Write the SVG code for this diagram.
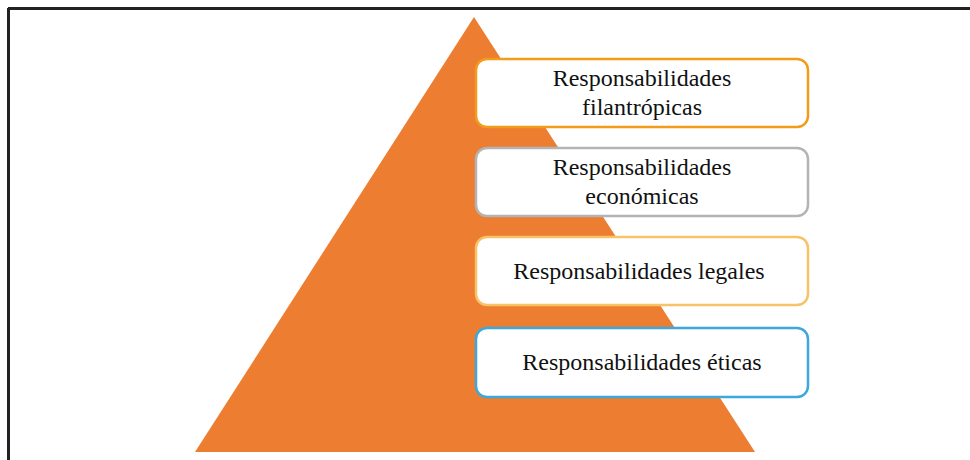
<svg xmlns="http://www.w3.org/2000/svg" width="970" height="460" viewBox="0 0 970 460">
<style>
.box{fill:#fff;stroke-width:2.5}
.t{font-family:"Liberation Serif","Times New Roman",serif;font-size:24px;fill:#111;text-anchor:middle}
</style>
<rect width="970" height="460" fill="#fff"/>
<g id="frame">
<line x1="8" y1="8.5" x2="970" y2="8.5" stroke="#222" stroke-width="3"/>
<line x1="8.5" y1="8" x2="8.5" y2="460" stroke="#222" stroke-width="3"/>
</g>
<g id="pyramid">
<polygon points="474,17 755,452 195,452" fill="#ED7D31"/>
</g>
<g id="connectors"></g>
<g id="n1">
<rect class="box" x="476" y="59" width="332" height="68" rx="11" stroke="#F39C1A"/>
<text class="t" x="642" y="86">Responsabilidades</text>
<text class="t" x="642" y="115">filantrópicas</text>
</g>
<g id="n2">
<rect class="box" x="476" y="148" width="332" height="68" rx="11" stroke="#B4B4B4"/>
<text class="t" x="642" y="175">Responsabilidades</text>
<text class="t" x="642" y="204">económicas</text>
</g>
<g id="n3">
<rect class="box" x="476" y="237" width="332" height="68" rx="11" stroke="#F8C266"/>
<text class="t" x="639" y="279">Responsabilidades legales</text>
</g>
<g id="n4">
<rect class="box" x="476" y="328" width="332" height="69" rx="11" stroke="#3BA8DE"/>
<text class="t" x="642" y="370">Responsabilidades éticas</text>
</g>
</svg>
